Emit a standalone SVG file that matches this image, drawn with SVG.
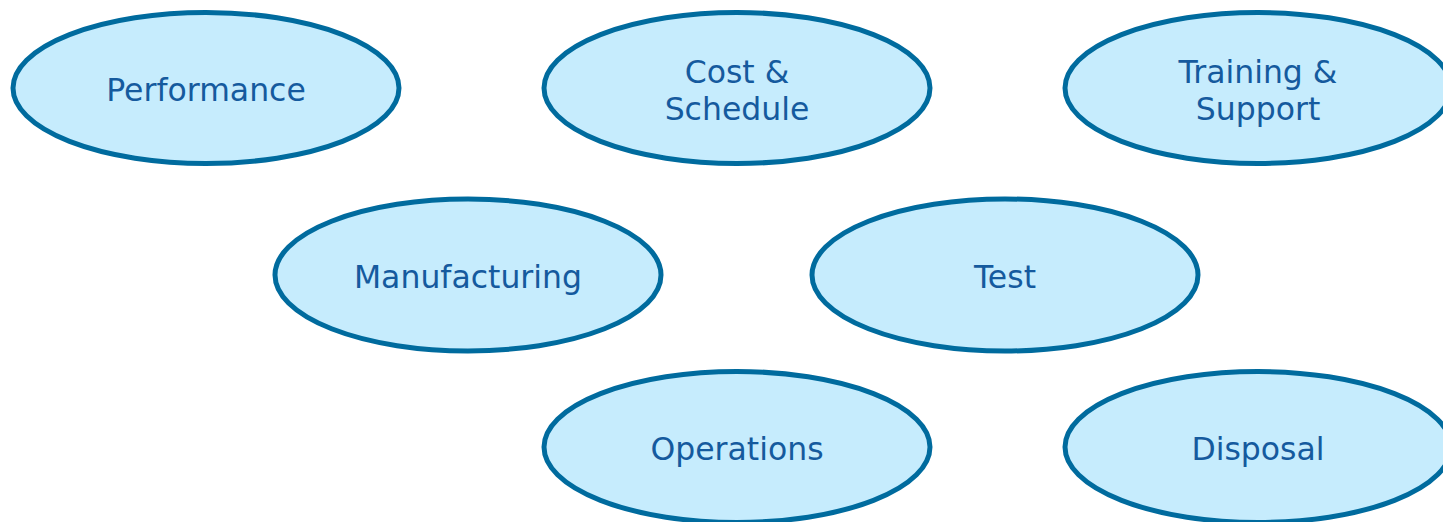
<svg xmlns="http://www.w3.org/2000/svg" width="1443" height="522" viewBox="0 0 1443 522">
<style>
.n ellipse{fill:#c6ecfd;stroke:#006b9e;stroke-width:5}
.n text{font-family:"DejaVu Sans",Verdana,sans-serif;font-size:31.5px;fill:#155a9e;text-anchor:middle}
</style>
<rect width="1443" height="522" fill="#ffffff"/>
<g id="connectors"></g>
<g id="performance" class="n"><ellipse cx="206" cy="88" rx="193" ry="75.5"/><text x="206" y="101">Performance</text></g>
<g id="cost-schedule" class="n"><ellipse cx="737" cy="88" rx="193" ry="75.5"/><text x="737" y="83">Cost &amp;</text><text x="737" y="120">Schedule</text></g>
<g id="training-support" class="n"><ellipse cx="1258" cy="88" rx="193" ry="75.5"/><text x="1258" y="83">Training &amp;</text><text x="1258" y="120">Support</text></g>
<g id="manufacturing" class="n"><ellipse cx="468" cy="275" rx="193" ry="76"/><text x="468" y="288">Manufacturing</text></g>
<g id="test" class="n"><ellipse cx="1005" cy="275" rx="193" ry="76"/><text x="1005" y="288">Test</text></g>
<g id="operations" class="n"><ellipse cx="737" cy="447" rx="193" ry="75.5"/><text x="737" y="460">Operations</text></g>
<g id="disposal" class="n"><ellipse cx="1258" cy="447" rx="193" ry="75.5"/><text x="1258" y="460">Disposal</text></g>
</svg>
